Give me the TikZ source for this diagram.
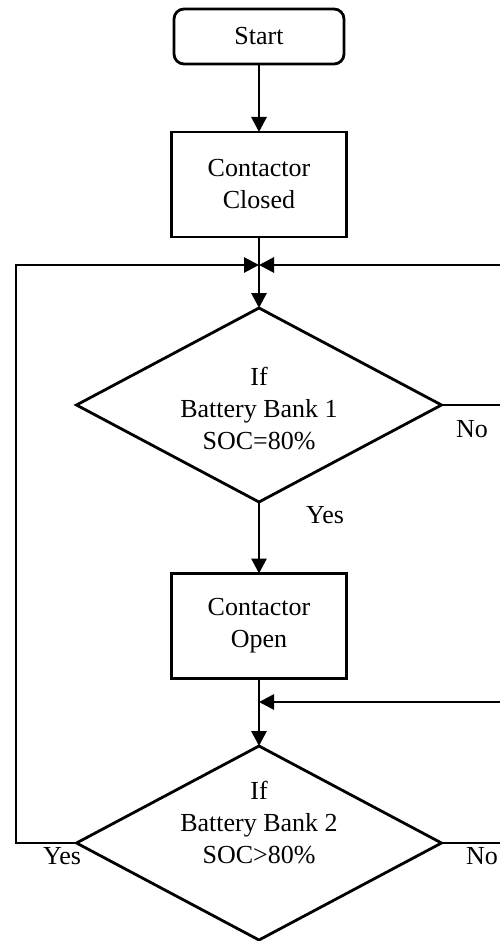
\documentclass[tikz,border=0pt]{standalone}
\usepackage{fontspec}
\setmainfont{Liberation Serif}
\usetikzlibrary{shapes.geometric,arrows.meta}
\begin{document}
\begin{tikzpicture}[x=1pt,y=-1pt,
  line width=2.8pt,
  every node/.style={font=\fontsize{26}{32}\selectfont},
  procbox/.style={draw, minimum width=175pt, minimum height=105pt, align=center, inner sep=0pt, outer sep=0pt},
  startbox/.style={draw, rounded corners=10pt, minimum width=170pt, minimum height=55pt, inner sep=0pt, outer sep=0pt},
  decision/.style={draw, shape=diamond, minimum width=365pt, minimum height=194pt, inner sep=0pt, outer sep=0pt},
  dtext/.style={align=center, inner sep=0pt},
  lbl/.style={anchor=base, inner sep=0pt},
  arr/.style={-{Triangle[length=15pt,width=15pt]}}
]
\useasboundingbox (0,0) rectangle (499,941);

\node[startbox] (start) at (259,36.5) {Start};
\node[procbox] (cc) at (259,184.5) {Contactor\\Closed};
\node[decision] (d1) at (259,405) {};
\node[dtext] (d1t) at (259,409) {If\\Battery Bank 1\\SOC=80\%};
\node[procbox] (co) at (259,626) {Contactor\\Open};
\node[decision] (d2) at (259,843) {};
\node[dtext] (d2t) at (259,823) {If\\Battery Bank 2\\SOC>80\%};

\coordinate (j1) at (259,265);
\coordinate (j2) at (259,702);
\coordinate (r1) at (506,265);
\coordinate (r2) at (506,702);
\coordinate (l1) at (16,265);

\draw[arr] (start.south) -- (cc.north);
\draw[arr] (cc.south) -- (d1.north);
\draw[arr] (d1.south) -- (co.north);
\draw[arr] (co.south) -- (d2.north);
\draw[arr] (d1.east) -| (r1) -- (j1);
\draw[arr] (d2.east) -| (r2) -- (j2);
\draw[arr] (d2.west) -| (l1) -- (j1);

\node[lbl] (yes1) at (325,523) {Yes};
\node[lbl] (no1) at (472,437) {No};
\node[lbl] (yes2) at (62,864) {Yes};
\node[lbl] (no2) at (482,864) {No};
\end{tikzpicture}
\end{document}
